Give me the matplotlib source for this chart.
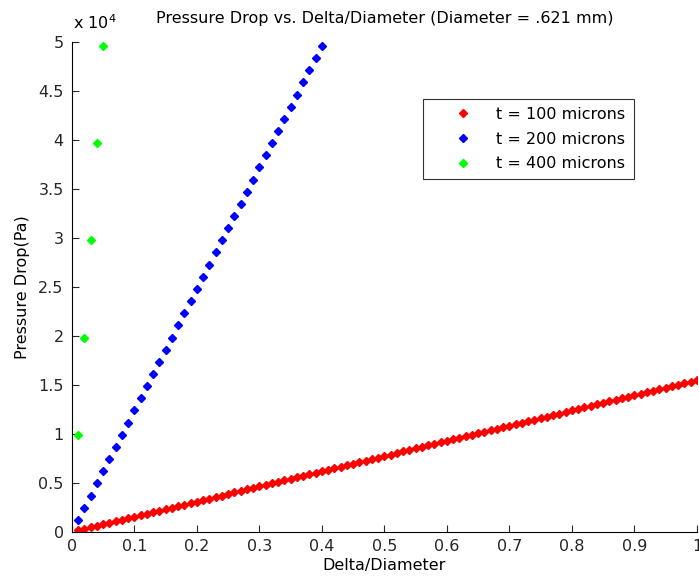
import matplotlib.pyplot as plt
from matplotlib.ticker import FuncFormatter

plt.rcParams['font.family'] = ['DejaVu Sans']
plt.rcParams['mathtext.fontset'] = 'dejavusans'

# Delta/Diameter sample points
delta_100 = [0.01, 0.02, 0.03, 0.04, 0.05, 0.06, 0.07, 0.08, 0.09, 0.10,
             0.11, 0.12, 0.13, 0.14, 0.15, 0.16, 0.17, 0.18, 0.19, 0.20,
             0.21, 0.22, 0.23, 0.24, 0.25, 0.26, 0.27, 0.28, 0.29, 0.30,
             0.31, 0.32, 0.33, 0.34, 0.35, 0.36, 0.37, 0.38, 0.39, 0.40,
             0.41, 0.42, 0.43, 0.44, 0.45, 0.46, 0.47, 0.48, 0.49, 0.50,
             0.51, 0.52, 0.53, 0.54, 0.55, 0.56, 0.57, 0.58, 0.59, 0.60,
             0.61, 0.62, 0.63, 0.64, 0.65, 0.66, 0.67, 0.68, 0.69, 0.70,
             0.71, 0.72, 0.73, 0.74, 0.75, 0.76, 0.77, 0.78, 0.79, 0.80,
             0.81, 0.82, 0.83, 0.84, 0.85, 0.86, 0.87, 0.88, 0.89, 0.90,
             0.91, 0.92, 0.93, 0.94, 0.95, 0.96, 0.97, 0.98, 0.99, 1.00]
drop_100 = [155, 310, 465, 620, 775, 930, 1085, 1240, 1395, 1550,
            1705, 1860, 2015, 2170, 2325, 2480, 2635, 2790, 2945, 3100,
            3255, 3410, 3565, 3720, 3875, 4030, 4185, 4340, 4495, 4650,
            4805, 4960, 5115, 5270, 5425, 5580, 5735, 5890, 6045, 6200,
            6355, 6510, 6665, 6820, 6975, 7130, 7285, 7440, 7595, 7750,
            7905, 8060, 8215, 8370, 8525, 8680, 8835, 8990, 9145, 9300,
            9455, 9610, 9765, 9920, 10075, 10230, 10385, 10540, 10695, 10850,
            11005, 11160, 11315, 11470, 11625, 11780, 11935, 12090, 12245, 12400,
            12555, 12710, 12865, 13020, 13175, 13330, 13485, 13640, 13795, 13950,
            14105, 14260, 14415, 14570, 14725, 14880, 15035, 15190, 15345, 15500]

delta_200 = [0.01, 0.02, 0.03, 0.04, 0.05, 0.06, 0.07, 0.08, 0.09, 0.10,
             0.11, 0.12, 0.13, 0.14, 0.15, 0.16, 0.17, 0.18, 0.19, 0.20,
             0.21, 0.22, 0.23, 0.24, 0.25, 0.26, 0.27, 0.28, 0.29, 0.30,
             0.31, 0.32, 0.33, 0.34, 0.35, 0.36, 0.37, 0.38, 0.39, 0.40]
drop_200 = [1240, 2480, 3720, 4960, 6200, 7440, 8680, 9920, 11160, 12400,
            13640, 14880, 16120, 17360, 18600, 19840, 21080, 22320, 23560, 24800,
            26040, 27280, 28520, 29760, 31000, 32240, 33480, 34720, 35960, 37200,
            38440, 39680, 40920, 42160, 43400, 44640, 45880, 47120, 48360, 49600]

delta_400 = [0.01, 0.02, 0.03, 0.04, 0.05]
drop_400 = [9920, 19840, 29760, 39680, 49600]

series_labels = ['t = 100 microns', 't = 200 microns', 't = 400 microns']

fs = 11.5

fig = plt.figure(figsize=(6.99, 5.83), dpi=100)
ax = fig.add_axes([0.103, 0.0875, 0.894, 0.8405])

ax.plot(delta_100, drop_100, 'D', color='#ff0000', ms=4, mec='#ff0000', label=series_labels[0])
ax.plot(delta_200, drop_200, 'D', color='#0000ff', ms=4, mec='#0000ff', label=series_labels[1])
ax.plot(delta_400, drop_400, 'D', color='#00ff00', ms=4, mec='#00ff00', label=series_labels[2])

ax.set_xlim(0, 1)
ax.set_ylim(0, 50000)
ax.set_xticks([0, 0.1, 0.2, 0.3, 0.4, 0.5, 0.6, 0.7, 0.8, 0.9, 1])
ax.set_xticklabels(['0', '0.1', '0.2', '0.3', '0.4', '0.5', '0.6', '0.7', '0.8', '0.9', '1'])
ax.set_yticks([i * 5000 for i in range(11)])
ax.yaxis.set_major_formatter(FuncFormatter(lambda v, p: ('%g' % (v / 1e4))))

for s in ['top', 'right']:
    ax.spines[s].set_visible(False)
ax.tick_params(direction='in', length=5, labelsize=fs, colors='#262626')
ax.tick_params(axis='x', pad=5)
ax.tick_params(axis='y', pad=6)

ax.set_title('Pressure Drop vs. Delta/Diameter (Diameter = .621 mm)', fontsize=fs, pad=14)
ax.set_xlabel('Delta/Diameter', fontsize=fs, labelpad=3)
ax.set_ylabel('Pressure Drop(Pa)', fontsize=fs, labelpad=6)
fig.text(0.104, 0.945, r'x 10$^4$', fontsize=fs, ha='left', va='bottom')

leg = ax.legend(loc='upper left', bbox_to_anchor=(0.5616, 0.8837), frameon=True,
                fancybox=False, edgecolor='black', fontsize=fs, handletextpad=0.1,
                borderpad=0.5, labelspacing=0.6, handlelength=4.0, markerscale=0.9,
                borderaxespad=0)
leg.get_frame().set_linewidth(0.8)

fig.savefig('out.png', dpi=100)
